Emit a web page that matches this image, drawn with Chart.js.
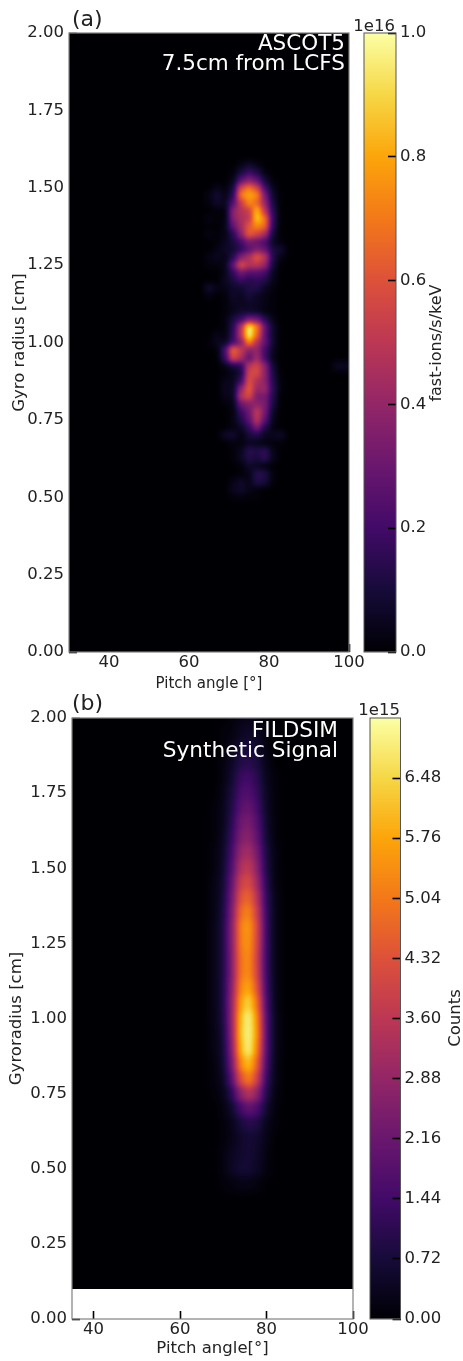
<!DOCTYPE html>
<html><head><meta charset="utf-8">
<script src="https://cdn.jsdelivr.net/npm/chart.js@4/dist/chart.umd.min.js"></script>
<style>html,body{margin:0;padding:0;background:#fff;width:463px;height:1361px;overflow:hidden}
canvas{position:absolute;left:0;top:0}</style></head><body>
<canvas id="heatA" width="463" height="694"></canvas>
<canvas id="barA" width="463" height="694"></canvas>
<canvas id="heatB" width="463" height="1361"></canvas>
<canvas id="barB" width="463" height="1361"></canvas>
<script>
// ---- (a) ASCOT5: values are % of 1e16 fast-ions/s/keV
const ascotPitch=[63,65,67,69,71,73,75,77,79,81,83,85];
const ascotGyro=[1.575,1.55,1.525,1.5,1.475,1.45,1.425,1.4,1.375,1.35,1.325,1.3,1.275,1.25,1.225,1.2,1.175,1.15,1.125,1.1,1.075,1.05,1.025,1,0.975,0.95,0.925,0.9,0.875,0.85,0.825,0.8,0.775,0.75,0.725,0.7,0.675,0.65,0.625,0.6,0.575,0.55,0.525,0.5];
const ascotValues=[
[0,0,0,0,0,3,7,3,0,0,0,0],
[0,0,0,0,1,10,18,12,2,0,0,0],
[0,0,0,0,4,26,36,28,9,1,0,0],
[0,0,4,1,9,56,70,55,20,4,0,0],
[0,3,9,3,14,72,80,74,32,7,0,0],
[0,2,7,5,24,52,74,66,40,10,0,0],
[0,0,1,1,38,48,52,86,50,14,0,0],
[0,3,1,1,36,46,50,90,70,16,0,0],
[0,0,0,3,28,44,62,74,68,14,0,0],
[0,3,1,3,14,38,64,56,44,9,0,0],
[0,0,1,5,11,20,32,28,22,6,1,0],
[0,0,3,7,8,15,25,35,28,11,9,0],
[0,3,5,3,14,36,46,62,50,12,3,0],
[0,2,2,4,28,60,48,50,40,9,0,0],
[0,0,0,4,16,30,24,24,20,5,0,0],
[0,0,0,6,11,18,13,16,13,4,0,0],
[0,9,3,3,7,8,13,13,6,2,0,0],
[0,2,0,1,7,5,10,6,3,1,0,0],
[0,0,0,1,5,5,6,6,3,1,0,0],
[0,0,0,1,4,8,7,5,2,1,0,0],
[0,0,0,2,11,18,32,30,14,3,0,0],
[0,0,0,2,14,48,100,72,28,7,0,0],
[0,0,4,2,16,50,100,66,26,7,0,0],
[0,1,5,6,20,34,74,46,28,8,0,0],
[0,0,1,22,68,52,36,40,20,5,0,0],
[0,0,0,18,58,46,26,44,20,4,0,0],
[0,0,0,4,10,14,50,56,38,8,0,0],
[0,0,0,1,4,10,56,58,38,11,0,0],
[0,0,0,4,5,18,60,46,38,13,1,0],
[0,0,0,5,5,40,64,40,42,15,1,0],
[0,0,0,4,5,50,58,32,32,13,0,0],
[0,0,0,1,3,30,36,38,34,11,0,0],
[0,0,0,0,2,18,30,52,32,6,0,0],
[0,0,0,0,3,12,26,50,26,4,0,0],
[0,0,0,0,2,6,16,34,12,2,0,0],
[0,0,0,7,9,2,10,13,5,5,7,0],
[0,0,0,0,2,2,5,4,2,1,1,0],
[0,0,0,0,1,5,15,13,16,4,0,0],
[0,0,0,0,1,6,13,10,16,4,0,0],
[0,0,0,0,0,1,7,5,2,0,0,0],
[0,0,0,0,0,1,3,15,13,2,0,0],
[0,0,0,0,3,7,3,13,10,1,0,0],
[0,0,0,0,5,8,4,1,0,0,0,0],
[0,0,0,0,1,2,1,1,0,0,0,0]];
const ascotSpotPitch=[97,99];
const ascotSpotGyro=[0.925,0.925];
const ascotSpotValue=[6,5];
const ascotXTicks=[40,60,80,100];
const ascotYTicks=[0,0.25,0.5,0.75,1,1.25,1.5,1.75,2];
const ascotBarTicks=[0,0.2,0.4,0.6,0.8,1];

// ---- (b) FILDSIM: values are % of 7.2e15 counts
const fildPitch=[66,68,70,72,74,76,78,80,82,84];
const fildGyro=[2,1.95,1.9,1.85,1.8,1.75,1.7,1.65,1.6,1.55,1.5,1.45,1.4,1.35,1.3,1.25,1.2,1.15,1.1,1.05,1,0.95,0.9,0.85,0.8,0.75,0.7,0.65,0.6,0.55,0.5,0.45];
const fildValues=[
[0,0,0,1,3,4,3,1,0,0],
[0,0,1,2,5,7,5,1,0,0],
[0,0,1,4,9,11,8,2,0,0],
[0,0,2,6,13,15,11,3,0,0],
[0,0,2,8,18,20,14,4,1,0],
[0,0,3,10,22,24,17,5,1,0],
[0,1,4,12,26,29,20,6,1,0],
[0,1,4,14,31,34,24,7,1,0],
[0,1,5,17,35,38,27,8,1,0],
[0,2,6,20,41,45,32,10,2,0],
[0,2,7,23,47,52,37,11,2,0],
[0,3,8,27,54,59,42,13,2,0],
[0,3,9,30,61,67,48,15,3,0],
[0,3,10,33,68,74,53,16,3,0],
[0,4,11,35,73,79,57,17,3,0],
[0,4,11,35,72,78,56,17,3,0],
[0,4,11,34,70,76,54,17,3,0],
[0,4,11,34,70,76,55,17,3,0],
[0,4,11,36,74,82,60,18,3,0],
[0,4,11,38,80,92,68,20,3,0],
[0,4,10,38,86,100,74,22,4,0],
[0,3,9,36,88,100,76,22,4,0],
[0,3,8,34,84,100,72,22,4,0],
[0,2,7,30,74,88,64,20,3,0],
[0,2,5,24,60,74,54,16,3,0],
[0,1,3,14,38,50,38,12,2,0],
[0,0,2,7,20,28,22,8,1,0],
[0,0,1,4,10,14,12,4,1,0],
[0,0,1,3,7,9,8,3,0,0],
[0,0,2,5,8,9,7,2,0,0],
[0,0,2,6,9,9,6,2,0,0],
[0,0,1,2,3,3,2,0,0,0]];
const fildXTicks=[40,60,80,100];
const fildYTicks=[0,0.25,0.5,0.75,1,1.25,1.5,1.75,2];
const fildBarTicks=[0,0.72,1.44,2.16,2.88,3.6,4.32,5.04,5.76,6.48];

// ---- shared styling
const FONT='"DejaVu Sans"';
const INK='#222';
Chart.defaults.font.family=FONT;
Chart.defaults.color=INK;
const infernoStops=['#000004','#160b39','#420a68','#6a176e','#932667','#bc3754','#dd513a','#f37819','#fca50a','#f6d746','#fcffa4'];
const hexRGB=h=>[1,3,5].map(i=>parseInt(h.substr(i,2),16));
const LUT=[];
for(let i=0;i<256;i++){const t=i/255*10,k=Math.min(9,Math.floor(t)),f=t-k,a=hexRGB(infernoStops[k]),b=hexRGB(infernoStops[k+1]);
  LUT.push([0,1,2].map(c=>a[c]+(b[c]-a[c])*f));}

function cellStyles(w,h){const cache={};
  return v=>{if(!cache[v]){const c=document.createElement('canvas');c.width=w;c.height=h;const g=c.getContext('2d');
    const s=Math.round(v*2.55);g.fillStyle=`rgb(${s},${s},${s})`;g.fillRect(0,0,w,h);cache[v]=c;}return cache[v];};}

function blurGray(buf,w,h,sigma){
  const r=Math.ceil(sigma*3),k=[];let sum=0;
  for(let i=-r;i<=r;i++){const x=Math.exp(-i*i/(2*sigma*sigma));k.push(x);sum+=x;}
  for(let i=0;i<k.length;i++)k[i]/=sum;
  const t=new Float32Array(w*h),o=new Float32Array(w*h);
  for(let y=0;y<h;y++)for(let x=0;x<w;x++){let s=0;for(let i=-r;i<=r;i++){const xx=Math.min(w-1,Math.max(0,x+i));s+=buf[y*w+xx]*k[i+r];}t[y*w+x]=s;}
  for(let y=0;y<h;y++)for(let x=0;x<w;x++){let s=0;for(let i=-r;i<=r;i++){const yy=Math.min(h-1,Math.max(0,y+i));s+=t[yy*w+x]*k[i+r];}o[y*w+x]=s;}
  return o;
}
function heatPlugin(floorValue,sigma){
  const rect=c=>{const a=c.chartArea,fy=c.scales.y.getPixelForValue(floorValue);
    return {x:Math.round(a.left),y:Math.round(a.top),w:Math.round(a.right-a.left),h:Math.round(fy-a.top)};};
  return {id:'heat',
    beforeDatasetsDraw(c){const r=rect(c);c.ctx.save();c.ctx.fillStyle='#000';c.ctx.fillRect(r.x,r.y,r.w,r.h);c.ctx.restore();},
    afterDatasetsDraw(c){const r=rect(c),img=c.ctx.getImageData(r.x,r.y,r.w,r.h),d=img.data,g=new Float32Array(r.w*r.h);
      for(let i=0;i<g.length;i++)g[i]=d[i*4];
      const o=blurGray(g,r.w,r.h,sigma);
      for(let i=0;i<g.length;i++){const m=LUT[Math.min(255,Math.round(o[i]))];d[i*4]=m[0];d[i*4+1]=m[1];d[i*4+2]=m[2];d[i*4+3]=255;}
      c.ctx.putImageData(img,r.x,r.y);}
  };
}
function notesPlugin(notes){return {id:'notes',afterDraw(c){const x=c.ctx;
  for(const n of notes){x.save();x.font=n.size+'px '+FONT;x.fillStyle=n.color||INK;x.textAlign=n.align||'left';x.textBaseline='alphabetic';
    x.translate(n.x,n.y);if(n.rot)x.rotate(n.rot);x.fillText(n.text,0,0);x.restore();}}};}
function framePlugin(color,width){return {id:'frame',afterDraw(c){const a=c.chartArea,x=c.ctx;x.save();x.strokeStyle=color;x.lineWidth=width;
  x.strokeRect(a.left,a.top,a.right-a.left,a.bottom-a.top);x.restore();}};}

function cells(pitch,gyro,values,extra){const out=[];
  gyro.forEach((g,r)=>pitch.forEach((p,c)=>{if(values[r][c]>0)out.push({x:p,y:g,v:values[r][c]});}));
  return out.concat(extra||[]);}

const TICK=8;
function axisCommon(ticks,digits,titleText,titlePad,fitKey,fitVal,pad){
  return {
    grid:{drawOnChartArea:false,drawTicks:true,tickLength:-TICK,tickWidth:1.6,tickColor:'#000',z:1},
    border:{display:false},
    afterBuildTicks:s=>{s.ticks=ticks.map(v=>({value:v}));},
    afterFit:s=>{s[fitKey]=fitVal;},
    ticks:{z:1,autoSkip:false,maxRotation:0,padding:TICK+pad,font:{size:16.5},color:INK,callback:v=>digits===null?String(v):v.toFixed(digits)},
    title:{display:true,text:titleText.text,font:{size:titleText.size},color:INK,padding:titlePad}
  };
}
function heatChart(id,cfg){
  const cellStyle=cellStyles(cfg.cellW,cfg.cellH);
  return new Chart(document.getElementById(id),{
    type:'scatter',
    data:{datasets:[{data:cells(cfg.pitch,cfg.gyro,cfg.values,cfg.extra),pointRadius:3,
      pointStyle:c=>c.raw?cellStyle(c.raw.v):'rect',pointBackgroundColor:'#000',pointBorderWidth:0}]},
    options:{responsive:false,animation:false,events:[],
      layout:{padding:{left:0,top:cfg.top,right:463-cfg.right,bottom:0}},
      plugins:{legend:{display:false},tooltip:{enabled:false}},
      scales:{
        x:Object.assign(axisCommon(cfg.xTicks,null,cfg.xTitle,cfg.xTitlePad,'height',cfg.canvasH-cfg.bottom,cfg.xLabelPad),{type:'linear',min:cfg.xMin,max:cfg.xMax,position:'bottom'}),
        y:Object.assign(axisCommon(cfg.yTicks,2,cfg.yTitle,cfg.yTitlePad,'width',cfg.left,5),{type:'linear',min:0,max:2,position:'left'})
      }},
    plugins:[heatPlugin(cfg.floor,cfg.sigma),framePlugin('#808080',1.2),notesPlugin(cfg.notes)]
  });
}
function barChart(id,cfg){
  return new Chart(document.getElementById(id),{
    type:'bar',
    data:{labels:[cfg.label],datasets:[{data:[cfg.max],barPercentage:1,categoryPercentage:1,borderWidth:0,
      backgroundColor:c=>{const a=c.chart.chartArea;if(!a)return '#000';const g=c.chart.ctx.createLinearGradient(0,a.bottom,0,a.top);
        infernoStops.forEach((s,i)=>g.addColorStop(i/10,s));return g;}}]},
    options:{responsive:false,animation:false,events:[],
      layout:{padding:{left:cfg.left,top:cfg.top,right:0,bottom:cfg.canvasH-cfg.bottom}},
      plugins:{legend:{display:false},tooltip:{enabled:false}},
      scales:{
        x:{display:false},
        y:{type:'linear',min:0,max:cfg.max,position:'right',
           grid:{drawOnChartArea:false,drawTicks:true,tickLength:-TICK,tickWidth:1.6,tickColor:'#000',z:1},
           border:{display:false},
           afterBuildTicks:s=>{s.ticks=cfg.ticks.map(v=>({value:v}));},
           afterFit:s=>{s.width=463-cfg.right;},
           ticks:{z:1,autoSkip:false,padding:TICK+4,font:{size:16.5},color:INK,callback:v=>v.toFixed(cfg.digits)}}
      }},
    plugins:[framePlugin('#555',1),notesPlugin(cfg.notes)]
  });
}

heatChart('heatA',{canvasH:694,left:69,right:349,top:33,bottom:652,xMin:30,xMax:100,floor:0,sigma:3,cellW:8,cellH:8,
  pitch:ascotPitch,gyro:ascotGyro,values:ascotValues,
  extra:ascotSpotPitch.map((p,i)=>({x:p,y:ascotSpotGyro[i],v:ascotSpotValue[i]})),
  xTicks:ascotXTicks,yTicks:ascotYTicks,
  xTitle:{text:'Pitch angle [°]',size:15},xTitlePad:{top:0,bottom:1},xLabelPad:1,
  yTitle:{text:'Gyro radius [cm]',size:16.5},yTitlePad:{top:10,bottom:0},
  notes:[{text:'(a)',x:72,y:26,size:22},
    {text:'ASCOT5',x:345,y:50,size:21.5,align:'right',color:'#fff'},
    {text:'7.5cm from LCFS',x:345,y:70,size:21.5,align:'right',color:'#fff'}]});
barChart('barA',{canvasH:694,left:364,right:396,top:33,bottom:652,max:1,ticks:ascotBarTicks,digits:1,label:'fast-ions/s/keV',
  notes:[{text:'1e16',x:395,y:31,size:16.5,align:'right'},
    {text:'fast-ions/s/keV',x:441,y:343,size:16,align:'center',rot:-Math.PI/2}]});
heatChart('heatB',{canvasH:1361,left:72,right:353,top:718,bottom:1319,xMin:35,xMax:100,floor:0.1,sigma:4,cellW:9,cellH:16,
  pitch:fildPitch,gyro:fildGyro,values:fildValues,
  xTicks:fildXTicks,yTicks:fildYTicks,
  xTitle:{text:'Pitch angle[°]',size:16.5},xTitlePad:{top:0,bottom:2},xLabelPad:1,
  yTitle:{text:'Gyroradius [cm]',size:16.5},yTitlePad:{top:7,bottom:0},
  notes:[{text:'(b)',x:72,y:710,size:22},
    {text:'FILDSIM',x:338,y:737,size:21.6,align:'right',color:'#fff'},
    {text:'Synthetic Signal',x:338,y:757,size:21.6,align:'right',color:'#fff'}]});
barChart('barB',{canvasH:1361,left:370,right:400.5,top:718,bottom:1319,max:7.2,ticks:fildBarTicks,digits:2,label:'Counts',
  notes:[{text:'1e15',x:400,y:715,size:16.5,align:'right'},
    {text:'Counts',x:460,y:1018,size:16.5,align:'center',rot:-Math.PI/2}]});
</script></body></html>
